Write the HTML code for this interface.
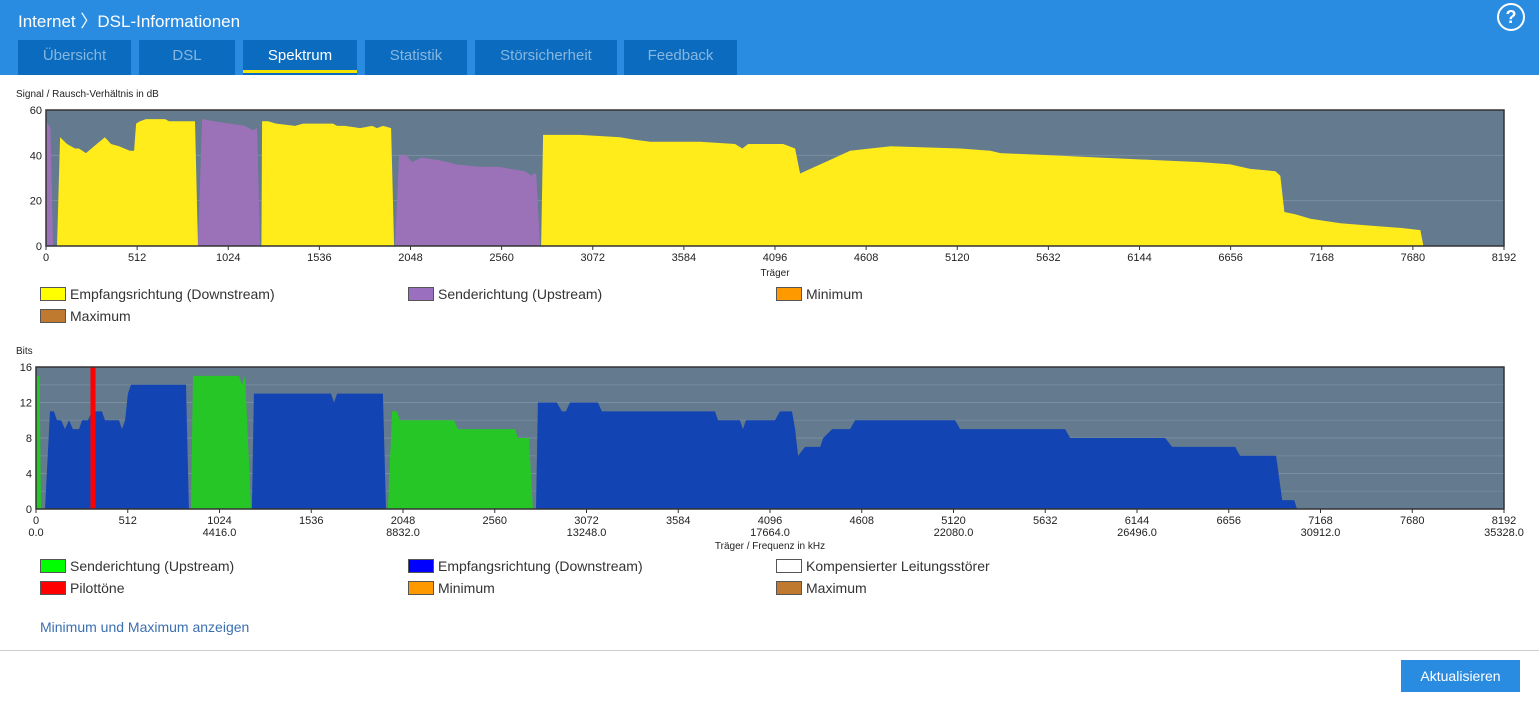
<!DOCTYPE html>
<html><head><meta charset="utf-8">
<style>
body{margin:0;width:1539px;height:701px;position:relative;background:#fff;font-family:"Liberation Sans",sans-serif;overflow:hidden}
#hdr{position:absolute;left:0;top:0;width:1539px;height:75px;background:#2a8ce0}
#title{position:absolute;left:18px;top:7px;color:#fff;font-size:17px}
.tab{position:absolute;top:40px;height:35px;background:#0b6cbf;color:#86b6df;font-size:15px;text-align:center;line-height:32px}
.tab.act{color:#fff}
.tab.act::after{content:"";position:absolute;left:0;right:0;bottom:2px;height:3px;background:#f5e400}
#help{position:absolute;left:1497px;top:3px;width:24px;height:24px;border:2px solid #fff;border-radius:50%;color:#fff;font-weight:bold;font-size:18px;text-align:center;line-height:24px}
.leg{position:absolute;font-size:14px;color:#333;display:flex;align-items:center}
.leg i{display:inline-block;width:24px;height:12px;border:1px solid #555;margin-right:4px}
#link{position:absolute;left:40px;top:619px;color:#3b6fb0;font-size:14px}
#hr{position:absolute;left:0;top:650px;width:1539px;height:1px;background:#ccc}
#btn{position:absolute;left:1401px;top:660px;width:119px;height:32px;background:#2a8ce0;color:#fff;font-size:14px;text-align:center;line-height:32px}
svg{position:absolute;left:0;top:0}
</style></head><body>
<div id="hdr">
<div id="title">Internet 〉DSL-Informationen</div>
<div id="help">?</div>
<div class="tab" style="left:18px;width:113px">Übersicht</div>
<div class="tab" style="left:139px;width:96px">DSL</div>
<div class="tab act" style="left:243px;width:114px">Spektrum</div>
<div class="tab" style="left:365px;width:102px">Statistik</div>
<div class="tab" style="left:475px;width:142px">Störsicherheit</div>
<div class="tab" style="left:624px;width:113px">Feedback</div>
</div>
<svg id="chart" width="1539" height="701"></svg>
<div class="leg" style="left:40px;top:286px"><i style="background:#ffff00"></i>Empfangsrichtung (Downstream)</div>
<div class="leg" style="left:408px;top:286px"><i style="background:#9b6fc0"></i>Senderichtung (Upstream)</div>
<div class="leg" style="left:776px;top:286px"><i style="background:#ff9900"></i>Minimum</div>
<div class="leg" style="left:40px;top:308px"><i style="background:#c07a30"></i>Maximum</div>
<div class="leg" style="left:40px;top:558px"><i style="background:#00ff00"></i>Senderichtung (Upstream)</div>
<div class="leg" style="left:408px;top:558px"><i style="background:#0000ff"></i>Empfangsrichtung (Downstream)</div>
<div class="leg" style="left:776px;top:558px"><i style="background:#fff"></i>Kompensierter Leitungsstörer</div>
<div class="leg" style="left:40px;top:580px"><i style="background:#ff0000"></i>Pilottöne</div>
<div class="leg" style="left:408px;top:580px"><i style="background:#ff9900"></i>Minimum</div>
<div class="leg" style="left:776px;top:580px"><i style="background:#c07a30"></i>Maximum</div>
<div id="link">Minimum und Maximum anzeigen</div>
<div id="hr"></div>
<div id="btn">Aktualisieren</div>
<script>
const xTicks=[0,512,1024,1536,2048,2560,3072,3584,4096,4608,5120,5632,6144,6656,7168,7680,8192];
const freqLabels=["0.0","4416.0","8832.0","13248.0","17664.0","22080.0","26496.0","30912.0","35328.0"];
const snrTicks=[0,20,40,60];
const bitTicks=[0,4,8,12,16];
const snrUp1=[[0,0],[0,55],[10,54],[25,52],[40,0]];
const snrDown1=[[62,0],[79,48],[118,45],[163,43],[185,43],[225,41],[270,44],[331,48],[365,45],[410,44],[472,42],[495,42],[506,54],[528,55],[562,56],[669,56],[691,55],[837,55],[854,0]];
const snrUp2=[[854,0],[877,56],[944,55],[1034,54],[1118,53],[1163,51],[1186,52],[1203,0]];
const snrDown2=[[1210,0],[1214,55],[1248,55],[1293,54],[1399,53],[1444,54],[1613,54],[1635,53],[1680,53],[1765,52],[1832,53],[1860,52],[1894,53],[1939,52],[1956,0]];
const snrUp3=[[1961,0],[1984,40],[2023,40],[2057,37],[2108,39],[2197,38],[2259,37],[2304,36],[2433,35],[2540,35],[2608,34],[2692,33],[2726,31],[2743,32],[2754,32],[2776,0]];
const snrDown3=[[2782,0],[2793,49],[3001,49],[3226,48],[3299,47],[3394,46],[3675,46],[3872,45],[3912,43],[3945,45],[4069,45],[4142,45],[4209,43],[4237,32],[4321,35],[4406,38],[4518,42],[4631,43],[4743,44],[5137,43],[5306,42],[5362,41],[5643,40],[5924,39],[6205,38],[6486,37],[6654,36],[6766,34],[6907,33],[6935,31],[6958,15],[7019,14],[7104,12],[7273,10],[7441,9],[7610,8],[7722,7],[7739,0]];
const bitUp1=[[0,0],[5,15],[20,15],[28,0]];
const bitDown1=[[50,0],[78,11],[100,11],[117,10],[140,10],[162,9],[184,10],[206,9],[240,9],[257,10],[290,10],[312,11],[368,11],[385,10],[463,10],[480,9],[497,10],[513,13],[530,14],[837,14],[853,0]];
const bitUp2=[[865,0],[876,15],[1133,15],[1150,14],[1167,15],[1200,0]];
const bitDown2=[[1205,0],[1216,13],[1646,13],[1663,12],[1680,13],[1936,13],[1953,0]];
const bitUp3=[[1964,0],[1987,11],[2014,11],[2031,10],[2332,10],[2355,9],[2673,9],[2690,8],[2751,8],[2773,0]];
const bitDown3=[[2790,0],[2801,12],[2907,12],[2935,11],[2957,11],[2980,12],[3136,12],[3158,11],[3789,11],[3806,10],[3928,10],[3945,9],[3962,10],[4124,10],[4152,11],[4219,11],[4236,9],[4253,6],[4292,7],[4376,7],[4393,8],[4443,9],[4543,9],[4571,10],[5129,10],[5157,9],[5743,9],[5771,8],[6301,8],[6340,7],[6692,7],[6719,6],[6920,6],[6954,1],[7021,1],[7037,0]];
const pilotTones=[318];

const NS="http://www.w3.org/2000/svg";
const svg=document.getElementById('chart');
function mk(tag,attrs,parent){const e=document.createElementNS(NS,tag);for(const k in attrs)e.setAttribute(k,attrs[k]);(parent||svg).appendChild(e);return e;}
function drawChart(cfg){
  const xs=v=>cfg.x0+(v/8192)*(cfg.x1-cfg.x0);
  const ys=v=>cfg.y1-(v/cfg.ymax)*(cfg.y1-cfg.y0);
  const bg=mk('rect',{x:cfg.x0,y:cfg.y0,width:cfg.x1-cfg.x0,height:cfg.y1-cfg.y0,fill:'#647a8e'});
  
  
  cfg.yt.forEach(t=>{
    const y=ys(t);
    if(t>0&&t<cfg.ymax){const g=mk('line',{x1:cfg.x0,x2:cfg.x1,y1:y,y2:y,stroke:'#7b8fa2','stroke-width':1});
      
      }
    const tx=mk('text',{x:cfg.x0-4,y:y+4,'text-anchor':'end','font-size':11,fill:'#222'});tx.textContent=t;
    
    
  });
  if(cfg.minor){for(let t=2;t<cfg.ymax;t+=4){const y=ys(t);mk('line',{x1:cfg.x0,x2:cfg.x1,y1:y,y2:y,stroke:'#72879b','stroke-width':1});}}
  cfg.series.forEach(s=>{
    const pts=s.d.map(p=>xs(p[0]).toFixed(1)+','+ys(p[1]).toFixed(1)).join(' ');
    const p=mk('polygon',{points:pts,fill:s.c});
    
    
  });
  (cfg.pilots||[]).forEach(c=>{
    const r=mk('rect',{x:xs(c)-2.5,y:cfg.y0,width:5,height:cfg.y1-cfg.y0,fill:'#ff0000'});
    
    
  });
  mk('rect',{x:cfg.x0,y:cfg.y0,width:cfg.x1-cfg.x0,height:cfg.y1-cfg.y0,fill:'none',stroke:'#333','stroke-width':1.5});
  xTicks.forEach((t,i)=>{
    const x=xs(t);
    mk('line',{x1:x,x2:x,y1:cfg.y1,y2:cfg.y1+4,stroke:'#333'});
    const tx=mk('text',{x:x,y:cfg.y1+15,'text-anchor':'middle','font-size':11,fill:'#222'});tx.textContent=t;
    
    
    if(cfg.freq&&i%2===0){const f=mk('text',{x:x,y:cfg.y1+27,'text-anchor':'middle','font-size':11,fill:'#222'});f.textContent=freqLabels[i/2];
      
      }
  });
  const yt=mk('text',{x:16,y:cfg.y0-13,'font-size':10,fill:'#222'});yt.textContent=cfg.ytitle;
  
  
  const xt=mk('text',{x:(cfg.x0+cfg.x1)/2,y:cfg.y1+(cfg.freq?40:30),'text-anchor':'middle','font-size':10,fill:'#222'});xt.textContent=cfg.xtitle;
  
  
}
const Y='#ffec1a',P='#9b72b8',G='#27c627',B='#1245b3';
drawChart({name:'snr',x0:46,x1:1504,y0:110,y1:246,ymax:60,yt:snrTicks,ytitle:'Signal / Rausch-Verhältnis in dB',xtitle:'Träger',
 series:[{d:snrUp1,c:P,n:'snr-upstream-1'},{d:snrDown1,c:Y,n:'snr-downstream-1'},{d:snrUp2,c:P,n:'snr-upstream-2'},{d:snrDown2,c:Y,n:'snr-downstream-2'},{d:snrUp3,c:P,n:'snr-upstream-3'},{d:snrDown3,c:Y,n:'snr-downstream-3'}]});
drawChart({name:'bits',x0:36,x1:1504,y0:367,y1:509,ymax:16,yt:bitTicks,minor:true,freq:true,ytitle:'Bits',xtitle:'Träger / Frequenz in kHz',pilots:pilotTones,
 series:[{d:bitUp1,c:G,n:'bits-upstream-1'},{d:bitDown1,c:B,n:'bits-downstream-1'},{d:bitUp2,c:G,n:'bits-upstream-2'},{d:bitDown2,c:B,n:'bits-downstream-2'},{d:bitUp3,c:G,n:'bits-upstream-3'},{d:bitDown3,c:B,n:'bits-downstream-3'}]});
</script>
</body></html>
